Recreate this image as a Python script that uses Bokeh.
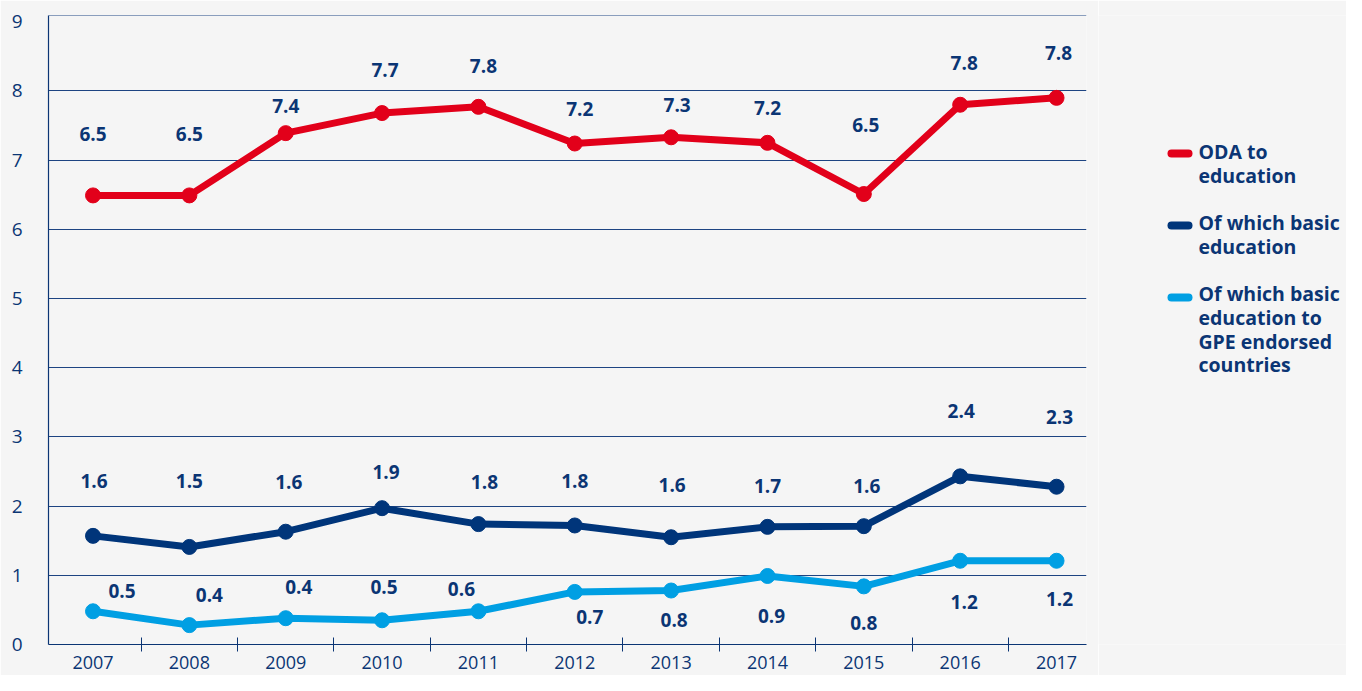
from bokeh.plotting import figure
from bokeh.models import Range1d, FixedTicker
from bokeh.layouts import row
from bokeh.embed import file_html
from bokeh.resources import INLINE
from bokeh.core.properties import value

# ---------------- data ----------------
years = [2007, 2008, 2009, 2010, 2011, 2012, 2013, 2014, 2015, 2016, 2017]
oda_education = [6.49, 6.49, 7.39, 7.68, 7.77, 7.24, 7.33, 7.25, 6.51, 7.80, 7.90]
basic_education = [1.57, 1.41, 1.63, 1.97, 1.74, 1.72, 1.55, 1.70, 1.71, 2.43, 2.28]
basic_gpe = [0.48, 0.28, 0.38, 0.35, 0.48, 0.76, 0.78, 0.99, 0.84, 1.21, 1.21]
oda_labels = ["6.5", "6.5", "7.4", "7.7", "7.8", "7.2", "7.3", "7.2", "6.5", "7.8", "7.8"]
basic_labels = ["1.6", "1.5", "1.6", "1.9", "1.8", "1.8", "1.6", "1.7", "1.6", "2.4", "2.3"]
gpe_labels = ["0.5", "0.4", "0.4", "0.5", "0.6", "0.7", "0.8", "0.9", "0.8", "1.2", "1.2"]
series_names = ["ODA to\neducation",
                "Of which basic\neducation",
                "Of which basic\neducation to\nGPE endorsed\ncountries"]
y_ticks = [0, 1, 2, 3, 4, 5, 6, 7, 8, 9]

# ---------------- layout / style ----------------
BG = "#f5f5f5"
NAVY = "#0b3574"
GRID = "#1d4482"
COLORS = ["#e2001a", "#00357a", "#009fe3"]
FONT = "Open Sans"

H = 675
MAIN_W = 1098
FR_L, FR_R, FR_T, FR_B = 48, 1086, 15, 644
X0, X1 = 2006.538, 2017.311
Y0, Y1 = 0, 9.09
PPX = (FR_R - FR_L) / (X1 - X0)
PPU = (FR_B - FR_T) / (Y1 - Y0)

# label placement (pixels): lift above the point, horizontal shift
label_lift = [
    [61, 61, 27, 43, 41, 35, 32, 35, 69, 42, 45],
    [55, 66, 50, 36, 42, 44, 52, 41, 40, 65, 70],
    [20, 30, 31, 33, 22, -25, -29, -40, -37, -41, -38],
]
label_shift = [
    [0, 0, 0, 3, 5, 5, 6, 0, 2, 4, 2],
    [1, 0, 3, 4, 6, 0, 1, 0, 3, 1, 3],
    [29, 20, 13, 2, -17, 15, 3, 4, 0, 4, 3],
]

p = figure(width=MAIN_W, height=H, title=None,
           x_range=Range1d(X0, X1), y_range=Range1d(Y0, Y1),
           output_backend="svg", toolbar_location=None,
           min_border_left=FR_L, min_border_top=FR_T,
           min_border_bottom=H - FR_B, min_border_right=MAIN_W - FR_R,
           background_fill_color=BG, border_fill_color=BG,
           outline_line_color=None)

# x axis: labels at year centres, tick marks between years
p.xaxis.ticker = FixedTicker(ticks=years, minor_ticks=[y + 0.5 for y in years[:-1]])
p.xaxis.major_tick_line_color = None
p.xaxis.major_tick_in = 0
p.xaxis.major_tick_out = 0
p.xaxis.minor_tick_line_color = NAVY
p.xaxis.minor_tick_in = 7
p.xaxis.minor_tick_out = 7
p.xaxis.axis_line_color = NAVY
p.xaxis.axis_line_width = 1.2
p.xaxis.major_label_standoff = 4
p.xaxis.major_label_text_font = FONT
p.xaxis.major_label_text_font_size = "18px"
p.xaxis.major_label_text_color = NAVY

p.yaxis.ticker = FixedTicker(ticks=y_ticks)
p.yaxis.major_tick_line_color = None
p.yaxis.minor_tick_line_color = None
p.yaxis.major_tick_in = 0
p.yaxis.major_tick_out = 0
p.yaxis.axis_line_color = NAVY
p.yaxis.axis_line_width = 1.2
p.yaxis.major_label_standoff = 26
p.yaxis.major_label_text_font = FONT
p.yaxis.major_label_text_font_size = "19px"
p.yaxis.major_label_text_color = NAVY

p.xgrid.visible = False
p.ygrid.ticker = FixedTicker(ticks=y_ticks[1:-1] + [Y1 - 0.006])
p.ygrid.grid_line_color = GRID
p.ygrid.grid_line_width = 1

all_series = [oda_education, basic_education, basic_gpe]
all_labels = [oda_labels, basic_labels, gpe_labels]
for vals, col in zip(all_series, COLORS):
    p.line(years, vals, line_color=col, line_width=7, line_join="round", line_cap="round")
    p.scatter(years, vals, size=15, fill_color=col, line_color=col)

for vals, labs, lift, shift in zip(all_series, all_labels, label_lift, label_shift):
    lx = [x + s / PPX for x, s in zip(years, shift)]
    ly = [v + l / PPU for v, l in zip(vals, lift)]
    p.text(lx, ly, text=labs, text_font=value(FONT), text_font_style="bold",
           text_font_size="19px", text_color=NAVY,
           text_align="center", text_baseline="middle")

# ---------------- legend panel ----------------
# (the row aligns this panel's frame with the chart frame, so its y range
#  is expressed in the same pixel rows as the chart frame)
LEG_W = 1346 - MAIN_W
lg = figure(width=LEG_W, height=H, title=None,
            x_range=Range1d(0, LEG_W), y_range=Range1d(FR_B, FR_T),
            output_backend="svg", toolbar_location=None,
            x_axis_type=None, y_axis_type=None, min_border=0,
            min_border_top=FR_T, min_border_bottom=H - FR_B,
            background_fill_color=BG, border_fill_color=BG,
            outline_line_color=None)
lg.grid.visible = False

entry_line_y = [153, 225, 297]
entry_text_y = [151, 222, 293]
line_gap = 23.8
for name, col, ly0, ty in zip(series_names, COLORS, entry_line_y, entry_text_y):
    lg.segment(x0=[73], y0=[ly0], x1=[90], y1=[ly0], line_color=col,
               line_width=8, line_cap="round")
    parts = name.split("\n")
    lg.text([100] * len(parts), [ty + i * line_gap for i in range(len(parts))],
            text=parts, text_font=value(FONT), text_font_style="bold",
            text_font_size="19.5px", text_color=NAVY,
            text_align="left", text_baseline="middle")

layout = row(p, lg)
open("out.html", "w").write(file_html(layout, INLINE))
